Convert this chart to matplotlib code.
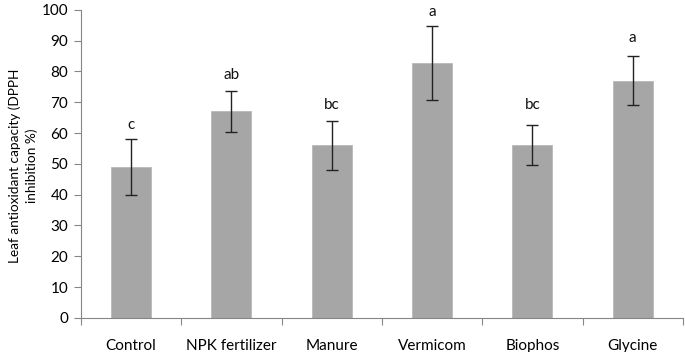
import matplotlib
matplotlib.use("Agg")
import matplotlib.pyplot as plt
import numpy as np

categories = ["Control", "NPK fertilizer", "Manure", "Vermicom", "Biophos", "Glycine"]
values = [49, 67, 56, 82.7, 56, 77]
errors = [9, 6.5, 8, 12, 6.5, 8]
letters = ["c", "ab", "bc", "a", "bc", "a"]
letter_y = [62.7, 79, 69, 99.2, 69, 91]
yticks = list(range(0, 101, 10))
ylabel_lines = ["Leaf antioxidant capacity (DPPH", "inhibition %)"]

plt.rcParams['font.family'] = ['Lato', 'DejaVu Sans']
fig = plt.figure(figsize=(6.85, 3.52), dpi=100)
ax = fig.add_axes([0.118, 0.097, 0.879, 0.875])

x = np.arange(len(categories))
ax.bar(x, values, width=0.4, color="#A6A6A6", edgecolor="#B8B8B8", linewidth=0.6, zorder=2)
ax.errorbar(x, values, yerr=errors, fmt="none", ecolor="#222222", elinewidth=1.0,
            capsize=4, capthick=1.0, zorder=3)
for xi, lab, ly in zip(x, letters, letter_y):
    ax.text(xi, ly, lab, ha="center", va="center", fontsize=11, color="#111111")

ax.set_xlim(-0.5, len(categories) - 0.5)
ax.set_ylim(0, 100)
ax.set_yticks(yticks)
ax.set_yticklabels([str(t) for t in yticks], fontsize=11)
ax.set_xticks(x)
ax.set_xticklabels(categories, fontsize=11)
ax.tick_params(axis="x", length=0, pad=15)
ax.set_xticks(np.arange(-0.5, len(categories), 1.0), minor=True)
ax.tick_params(axis="x", which="minor", length=5, color="#868686", width=0.8)
ax.tick_params(axis="y", length=5, color="#868686", width=0.8, pad=4)

for s in ["top", "right"]:
    ax.spines[s].set_visible(False)
for s in ["left", "bottom"]:
    ax.spines[s].set_color("#868686")
    ax.spines[s].set_linewidth(0.8)

for xpos, line in zip([0.021, 0.046], ylabel_lines):
    fig.text(xpos, 0.528, line, rotation=90, ha="center", va="center", fontsize=9.8)

fig.savefig("out.png", dpi=100)
